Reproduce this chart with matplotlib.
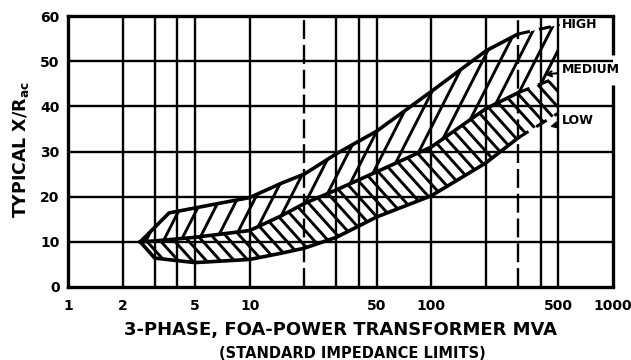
import numpy as np
import matplotlib
matplotlib.use("Agg")
import matplotlib.pyplot as plt
from matplotlib.collections import LineCollection
from matplotlib.patches import Polygon

# Boundary curves of the X/R bands (MVA vs typical X/R)
mva_high = [2.5, 3.6, 5, 10, 15, 20, 30, 50, 100, 200, 300, 500]
xr_high = [10, 16.4, 17.5, 19.8, 23, 25, 29.5, 34.5, 43.3, 52.3, 56, 58]

mva_med = [2.5, 3, 5, 10, 15, 20, 30, 50, 100, 200, 300, 500]
xr_med = [10, 10.2, 11, 12.5, 15.8, 18.5, 21.5, 25.5, 31, 39.5, 43, 46.5]

mva_low = [2.5, 3, 5, 10, 15, 20, 30, 50, 100, 200, 300, 500]
xr_low = [10, 6.4, 5.4, 6.1, 7.5, 8.6, 11, 15.5, 20.2, 27.5, 33, 38.5]

grid_x = [1, 2, 3, 4, 5, 10, 20, 30, 40, 50, 100, 200, 300, 400, 500, 1000]
dashed_x = [20, 300]
x_ticks = [1, 2, 5, 10, 50, 100, 500, 1000]
x_tick_labels = ["1", "2", "5", "10", "50", "100", "500", "1000"]
y_ticks = [0, 10, 20, 30, 40, 50, 60]
y_tick_labels = ["0", "10", "20", "30", "40", "50", "60"]

plt.rcParams["font.family"] = ["DejaVu Sans"]
plt.rcParams["font.weight"] = "bold"
plt.rcParams["mathtext.default"] = "bf"

W, H = 631, 360
fig = plt.figure(figsize=(W / 100, H / 100), dpi=100)
ax_l, ax_r, ax_t, ax_b = 68, 613, 16, 287
ax = fig.add_axes([ax_l / W, 1 - ax_b / H, (ax_r - ax_l) / W, (ax_b - ax_t) / H])
ax_wpx, ax_hpx = ax_r - ax_l, ax_b - ax_t

ax.set_xscale("log")
ax.set_xlim(1, 1000)
ax.set_ylim(0, 60)

# grid
for gx in grid_x:
    if gx in (1, 1000):
        continue
    ls = (0, (8, 2.5)) if gx in dashed_x else "-"
    ax.axvline(gx, color="black", lw=1.7, ls=ls, zorder=1)
for gy in y_ticks[1:-1]:
    ax.axhline(gy, color="black", lw=1.7, zorder=1)

ax.set_xticks(x_ticks)
ax.set_xticklabels(x_tick_labels)
ax.xaxis.set_minor_locator(matplotlib.ticker.NullLocator())
ax.set_yticks(y_ticks)
ax.set_yticklabels(y_tick_labels)
ax.tick_params(length=0, labelsize=10, colors="black")
ax.tick_params(axis="x", pad=9)
ax.tick_params(axis="y", pad=6)
for lab in ax.get_xticklabels() + ax.get_yticklabels():
    lab.set_fontweight("bold")

for side in ("left", "bottom", "top"):
    ax.spines[side].set_linewidth(2.4)
ax.spines["right"].set_visible(False)
ax.plot([1, 1], [0, 0.745], transform=ax.transAxes, color="black", lw=2.4, clip_on=False, solid_capstyle="butt")
ax.plot([1, 1], [0.856, 1], transform=ax.transAxes, color="black", lw=2.4, clip_on=False, solid_capstyle="butt")


def hatch(poly_xy, angle_deg, spacing_px, lw=2.1):
    """Parallel lines at a given angle, clipped to a data-space polygon."""
    patch = Polygon(poly_xy, closed=True, facecolor="none", edgecolor="none",
                    transform=ax.transData, zorder=2)
    ax.add_patch(patch)
    t = np.tan(np.radians(angle_deg))
    run = ax_hpx / t
    segs = []
    x0 = -abs(run) - spacing_px * 2
    while x0 < ax_wpx + abs(run) + spacing_px:
        segs.append([(x0 / ax_wpx, 0.0), ((x0 + run) / ax_wpx, 1.0)])
        x0 += spacing_px
    lc = LineCollection(segs, colors="black", linewidths=lw, transform=ax.transAxes, zorder=3)
    ax.add_collection(lc)
    lc.set_clip_path(patch)


upper = list(zip(mva_high, xr_high)) + list(zip(mva_med[::-1], xr_med[::-1]))
lower = list(zip(mva_med, xr_med)) + list(zip(mva_low[::-1], xr_low[::-1]))
hatch(upper, 63, 17.5)
hatch(lower, 132, 14)


# boundary curves: solid up to 300 MVA, dashed beyond
def boundary(xs, ys, solid_to=300):
    xs = np.asarray(xs, float)
    ys = np.asarray(ys, float)
    m = xs <= solid_to
    ax.plot(xs[m], ys[m], color="black", lw=2.6, zorder=4, solid_joinstyle="round")
    n = np.where(m)[0][-1]
    ax.plot(xs[n:], ys[n:], color="black", lw=2.2, ls=(0, (4, 3)), zorder=4)


boundary(mva_high, xr_high)
boundary(mva_med, xr_med)
boundary(mva_low, xr_low)

# band labels with leaders
lab_kw = dict(xycoords="data", textcoords="axes fraction", fontsize=9, fontweight="bold",
              va="center", ha="left", annotation_clip=False)
ax.annotate("HIGH", xy=(500, 58), xytext=(0.906, 0.967),
            arrowprops=dict(arrowstyle="-", lw=1.5, color="black", shrinkA=1, shrinkB=0), **lab_kw)
ax.annotate("MEDIUM", xy=(420, 47), xytext=(0.906, 0.804),
            arrowprops=dict(arrowstyle="->", lw=1.5, color="black", shrinkA=1, shrinkB=0), **lab_kw)
ax.annotate("LOW", xy=(450, 35.5), xytext=(0.906, 0.616),
            arrowprops=dict(arrowstyle="->", lw=1.5, color="black", shrinkA=1, shrinkB=0), **lab_kw)

# axis titles
fig.text(341 / W, 1 - 330 / H, "3-PHASE, FOA-POWER TRANSFORMER MVA", ha="center", va="center",
         fontsize=13, fontweight="bold")
fig.text(352 / W, 1 - 353 / H, "(STANDARD IMPEDANCE LIMITS)", ha="center", va="center",
         fontsize=10.5, fontweight="bold")
fig.text(21 / W, 1 - 150 / H, "TYPICAL X/R$_{ac}$", ha="center", va="center", rotation=90,
         fontsize=12.5, fontweight="bold")

fig.savefig("out.png", dpi=100, facecolor="white")
